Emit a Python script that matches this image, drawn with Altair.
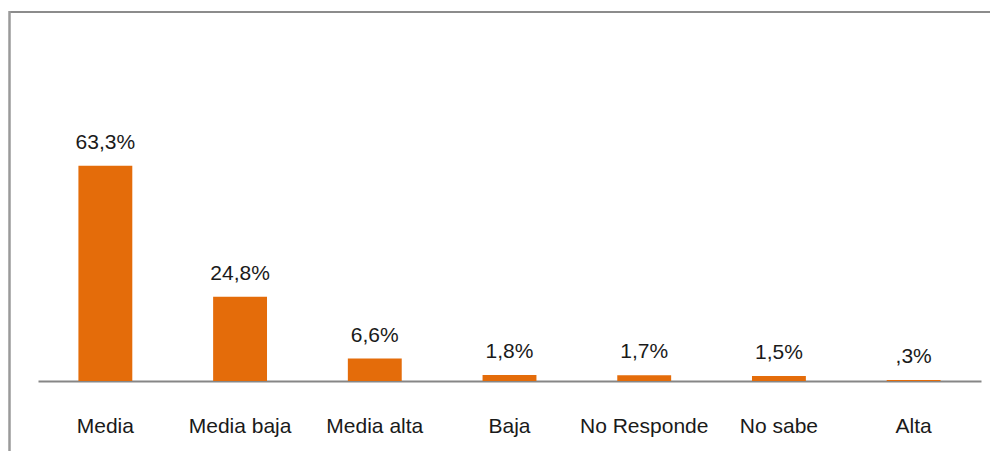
import altair as alt
import pandas as pd

categories = ["Media", "Media baja", "Media alta", "Baja", "No Responde", "No sabe", "Alta"]
values = [63.3, 24.8, 6.6, 1.8, 1.7, 1.5, 0.3]


def fmt(v):
    s = f"{v:.1f}".replace(".", ",")
    if s.startswith("0,"):
        s = s[1:]
    return s + "%"


labels = [fmt(v) for v in values]

df = pd.DataFrame({"cat": categories, "val": values, "lab": labels})

FONT = "Liberation Sans"
ORANGE = "#E46C0A"

x_enc = alt.X(
    "cat:N",
    sort=categories,
    title=None,
    scale=alt.Scale(paddingInner=0.6, paddingOuter=0.3),
    axis=alt.Axis(
        labelAngle=0,
        ticks=False,
        domainColor="#868686",
        domainWidth=2,
        labelFont=FONT,
        labelFontSize=21,
        labelColor="#1a1a1a",
        labelBaseline="alphabetic",
        labelPadding=51,
        grid=False,
    ),
)
y_enc = alt.Y("val:Q", scale=alt.Scale(domain=[0, 100]), axis=None)

base = alt.Chart(df).encode(x=x_enc, y=y_enc)

bars = base.mark_bar(color=ORANGE)
text = base.mark_text(
    font=FONT, fontSize=21, color="#1a1a1a", baseline="alphabetic", dy=-17
).encode(text="lab:N")

frame_df = pd.DataFrame({"a": [0]})
top_line = alt.Chart(frame_df).mark_rule(color="#8c8c8c", strokeWidth=2).encode(
    x=alt.value(-29), x2=alt.value(960), y=alt.value(-29)
)
left_line = alt.Chart(frame_df).mark_rule(color="#9a9a9a", strokeWidth=2.5).encode(
    x=alt.value(-28.5), y=alt.value(-30), y2=alt.value(410)
)

chart = (
    alt.layer(top_line, left_line, bars, text)
    .properties(
        width=943,
        height=340,
        autosize=alt.AutoSizeParams(type="none"),
        padding={"left": 30, "top": 33, "right": 9, "bottom": 70},
        background="white",
    )
    .configure_view(stroke=None, strokeWidth=0)
)

chart.save("out.html", embed_options={"renderer": "svg", "actions": False})
